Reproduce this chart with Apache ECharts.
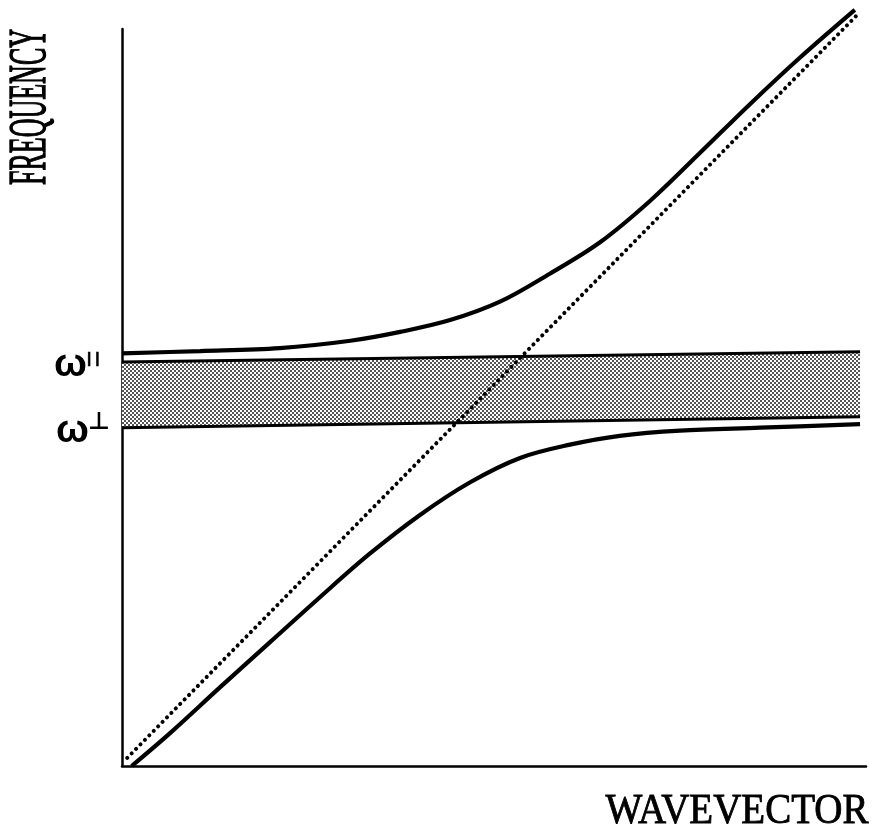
<!DOCTYPE html>
<html>
<head>
<meta charset="utf-8">
<script src="https://cdn.jsdelivr.net/npm/echarts@6/dist/echarts.min.js"></script>
<style>html,body{margin:0;padding:0;background:#fff;}#c{width:876px;height:834px;}</style>
</head>
<body>
<div id="c"></div>
<script>
// ---- data (normalized units: x 0..100 wavevector, y 0..100 frequency) ----
const xTitle = 'WAVEVECTOR';
const yTitle = 'FREQUENCY';
const upperX = [0, 10.5, 21.2, 30.7, 37.4, 44.1, 50.8, 57.5, 64.3, 71.0, 77.7, 84.4, 91.1, 98.5];
const upperY = [56.0, 56.3, 56.7, 57.7, 58.9, 60.5, 63.0, 66.8, 71.1, 76.7, 83.2, 89.8, 96.1, 102.6];
const lowerX = [1.3, 6.5, 13.2, 19.9, 26.6, 33.3, 40.1, 46.8, 53.5, 60.2, 66.9, 75.0, 85.8, 99.2];
const lowerY = [0, 4.5, 10.7, 16.8, 22.9, 28.8, 34.1, 38.5, 41.8, 43.6, 44.8, 45.5, 45.9, 46.4];
const lightX = [0.7, 98.9];
const lightY = [1.1, 102.0];
const bandX = [0, 99.2];
const bandTop = [54.8, 56.2];     // omega parallel
const bandBottom = [45.9, 47.4];  // omega perpendicular
const omegaSymbol = 'ω';
const parSup = '| |';
const perpSup = '⊥';

const zip = (xs, ys) => xs.map((x, i) => [x, ys[i]]);

// halftone pattern for the band
const pc = document.createElement('canvas');
pc.width = 4; pc.height = 4;
const pctx = pc.getContext('2d');
pctx.fillStyle = '#ffffff'; pctx.fillRect(0, 0, 4, 4);
pctx.fillStyle = '#555555';
pctx.fillRect(0, 0, 2, 2); pctx.fillRect(2, 2, 2, 2);

const chart = echarts.init(document.getElementById('c'), null, {renderer: 'canvas'});
const option = {
  animation: false,
  backgroundColor: '#ffffff',
  grid: {left: 122, right: 10, top: 29, bottom: 68},
  xAxis: {
    type: 'value', min: 0, max: 100,
    axisLine: {show: true, onZero: false, lineStyle: {color: '#000', width: 2.5}},
    axisTick: {show: false}, axisLabel: {show: false}, splitLine: {show: false}
  },
  yAxis: {
    type: 'value', min: 0, max: 100,
    axisLine: {show: true, onZero: false, lineStyle: {color: '#000', width: 2.5}},
    axisTick: {show: false}, axisLabel: {show: false}, splitLine: {show: false}
  },
  series: [
    {
      type: 'custom', silent: true, z: 1,
      data: [[0, 0]],
      renderItem: (params, api) => {
        const pts = [];
        for (let i = 0; i < bandX.length; i++) pts.push(api.coord([bandX[i], bandTop[i]]));
        for (let i = bandX.length - 1; i >= 0; i--) pts.push(api.coord([bandX[i], bandBottom[i]]));
        return {type: 'polygon', shape: {points: pts}, style: {fill: {image: pc, repeat: 'repeat'}, stroke: null}};
      }
    },
    {type: 'line', data: zip(bandX, bandTop), symbol: 'none', z: 3,
     lineStyle: {color: '#000', width: 3}},
    {type: 'line', data: zip(bandX, bandBottom), symbol: 'none', z: 3,
     lineStyle: {color: '#000', width: 3}},
    {type: 'line', data: zip(lightX, lightY), symbol: 'none', clip: false, z: 4,
     lineStyle: {color: '#000', width: 4, type: [0.1, 6.2], cap: 'round'}},
    {type: 'line', data: zip(upperX, upperY), symbol: 'none', smooth: 0.35, clip: false, z: 5,
     lineStyle: {color: '#000', width: 4.2}},
    {type: 'line', data: zip(lowerX, lowerY), symbol: 'none', smooth: 0.35, clip: false, z: 5,
     lineStyle: {color: '#000', width: 4.2}}
  ]
};
chart.setOption(option);

const yPar = chart.convertToPixel({yAxisIndex: 0}, bandTop[0]);
const yPerp = chart.convertToPixel({yAxisIndex: 0}, bandBottom[0]);
const x0 = chart.convertToPixel({xAxisIndex: 0}, 0);
const y0 = chart.convertToPixel({yAxisIndex: 0}, 0);
const xEnd = chart.convertToPixel({xAxisIndex: 0}, 100);

chart.setOption({
  graphic: [
    {type: 'text', x: 31, y: 107, rotation: Math.PI / 2, scaleY: 2.0, silent: true,
     style: {text: yTitle, font: '26px "Liberation Serif"', fill: '#000', stroke: '#000', lineWidth: 0.7,
             align: 'center', verticalAlign: 'middle'}},
    {type: 'text', x: xEnd - 129, y: y0 + 46, scaleY: 1.1, silent: true,
     style: {text: xTitle, font: '39px "Liberation Serif"', fill: '#000', stroke: '#000', lineWidth: 0.8,
             align: 'center', verticalAlign: 'middle'}},
    {type: 'text', x: x0 - 68, y: yPar + 23, silent: true,
     style: {text: omegaSymbol, font: 'bold 39px "Liberation Sans"', fill: '#000', align: 'left', verticalAlign: 'bottom'}},
    {type: 'text', x: x0 - 35, y: yPar - 3, silent: true,
     style: {text: parSup, font: 'bold 15px "Liberation Sans"', fill: '#000', stroke: '#000', lineWidth: 0.5,
             align: 'left', verticalAlign: 'middle'}},
    {type: 'text', x: x0 - 66, y: yPerp + 23, silent: true,
     style: {text: omegaSymbol, font: 'bold 39px "Liberation Sans"', fill: '#000', align: 'left', verticalAlign: 'bottom'}},
    {type: 'text', x: x0 - 34, y: yPerp - 5, silent: true,
     style: {text: perpSup, font: 'bold 24px "DejaVu Sans"', fill: '#000', align: 'left', verticalAlign: 'middle'}}
  ]
});
</script>
</body>
</html>
